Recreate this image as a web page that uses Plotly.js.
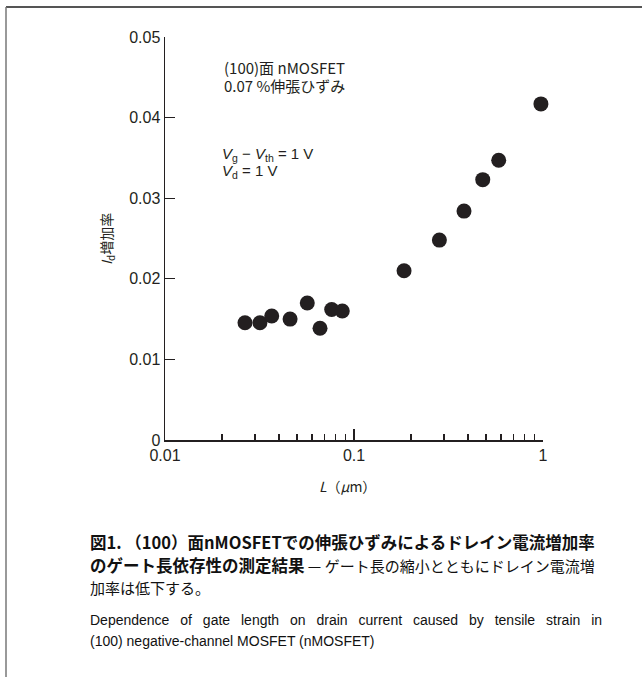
<!DOCTYPE html>
<html>
<head>
<meta charset="utf-8">
<script src="https://cdn.plot.ly/plotly-3.0.1.min.js"></script>
<style>
html,body{margin:0;padding:0;background:#fff;}
#chart{width:642px;height:677px;}
</style>
</head>
<body>
<div id="chart"></div>
<script>
// Gate length L (µm)
const gateLength = [0.0265, 0.0318, 0.0367, 0.0459, 0.0566, 0.0661, 0.0762, 0.0867, 0.184, 0.283, 0.382, 0.480, 0.583, 0.975];
// Id increase ratio
const idIncrease = [0.01455, 0.01455, 0.01538, 0.0150, 0.0170, 0.01386, 0.0162, 0.0160, 0.0210, 0.0248, 0.0284, 0.0323, 0.0347, 0.0417];

const yTickVals = [0, 0.01, 0.02, 0.03, 0.04, 0.05];
const yTickText = ['0', '0.01', '0.02', '0.03', '0.04', '0.05'];
const xTickVals = [0.01, 0.1, 1];
const xTickText = ['0.01', '0.1', '1'];

const ink = '#231f20';
const sans = 'Liberation Sans, Arial, Noto Sans CJK JP, sans-serif';
const cjk = 'Noto Sans CJK JP, sans-serif';

// plot area in pixels: x 165..543, y 37..440
const L = 165, R = 543, T = 37, B = 440;
const px = v => (v - L) / (R - L);
const py = v => (B - v) / (B - T);

const trace = {
  x: gateLength, y: idIncrease, type: 'scatter', mode: 'markers',
  marker: {size: 15, color: ink},
  cliponaxis: false, hoverinfo: 'x+y'
};
const majorTickCarrier = {x: [], y: [], type: 'scatter', mode: 'markers', xaxis: 'x2', yaxis: 'y', showlegend: false};

const ann = (text, x, y, opts) => Object.assign({
  text: text, xref: 'paper', yref: 'paper', x: px(x), y: py(y),
  xanchor: 'left', yanchor: 'middle', showarrow: false,
  font: {family: cjk, size: 14, color: ink}
}, opts || {});

const sp = ' \u2002';
const eng1 = ['Dependence','of','gate','length','on','drain','current','caused','by','tensile','strain','in'].join(sp);

const layout = {
  width: 642, height: 677,
  margin: {l: L, r: 642 - R, t: T, b: 677 - B, pad: 0},
  paper_bgcolor: '#fff', plot_bgcolor: '#fff',
  showlegend: false,
  font: {family: sans, color: ink},
  xaxis: {
    type: 'log', range: [-2, 0], tickmode: 'linear', tick0: 0, dtick: 'D1', showticklabels: false,
    ticks: 'inside', ticklen: 6, tickwidth: 1.5, tickcolor: ink,
    showline: true, linecolor: ink, linewidth: 1.5, showgrid: false, zeroline: false
  },
  xaxis2: {
    type: 'log', range: [-2, 0], overlaying: 'x', anchor: 'y', side: 'bottom',
    tickmode: 'array', tickvals: xTickVals, ticktext: xTickText,
    ticks: 'inside', ticklen: 11, tickwidth: 1.5, tickcolor: ink,
    ticklabelstandoff: 4,
    tickfont: {family: sans, size: 16, color: ink},
    showline: false, showgrid: false, zeroline: false
  },
  yaxis: {
    range: [0, 0.05], tickmode: 'array', tickvals: yTickVals, ticktext: yTickText,
    ticks: 'inside', ticklen: 10, tickwidth: 1.3, tickcolor: ink,
    showline: true, linecolor: ink, linewidth: 1.5, showgrid: false, zeroline: false,
    tickfont: {family: sans, size: 16, color: ink}
  },
  shapes: [
    {type: 'line', xref: 'paper', yref: 'paper', x0: px(6), x1: px(642), y0: py(7), y1: py(7), line: {color: '#555', width: 2}},
    {type: 'line', xref: 'paper', yref: 'paper', x0: px(6), x1: px(6), y0: py(7), y1: py(677), line: {color: '#777', width: 1.5}}
  ],
  annotations: [
    ann('(100)面 nMOSFET', 222, 67, {font: {family: cjk, size: 15, color: ink}}),
    ann('0.07 %伸張ひずみ', 222, 85, {font: {family: cjk, size: 15, color: ink}}),
    ann('<i>V</i><sub>g</sub> − <i>V</i><sub>th</sub> = 1 V', 220, 154, {font: {family: sans, size: 15, color: ink}}),
    ann('<i>V</i><sub>d</sub> = 1 V', 220, 171, {font: {family: sans, size: 15, color: ink}}),
    ann('<i>I</i><sub>d</sub>増加率', 107, 239, {xanchor: 'center', textangle: -90, font: {family: cjk, size: 14, color: ink}}),
    ann('<i>L</i>（<i>μ</i>m）', 347, 486, {xanchor: 'center', font: {family: cjk, size: 14, color: ink}}),
    ann('<b>図1. （100）面nMOSFETでの伸張ひずみによるドレイン電流増加率</b>', 88, 542, {font: {family: cjk, size: 16.5, color: '#111'}}),
    ann('<b>のゲート長依存性の測定結果</b><span style="font-size:15px"> — ゲート長の縮小とともにドレイン電流増</span>', 88, 565, {font: {family: cjk, size: 16.5, color: '#111'}}),
    ann('加率は低下する。', 88, 587, {font: {family: cjk, size: 15, color: '#111'}}),
    ann(eng1, 88, 620, {font: {family: sans, size: 14, color: '#111'}}),
    ann('(100) negative-channel MOSFET (nMOSFET)', 88, 641, {font: {family: sans, size: 14, color: '#111'}})
  ]
};

Plotly.newPlot('chart', [trace, majorTickCarrier], layout, {displayModeBar: false, staticPlot: true});
</script>
</body>
</html>
